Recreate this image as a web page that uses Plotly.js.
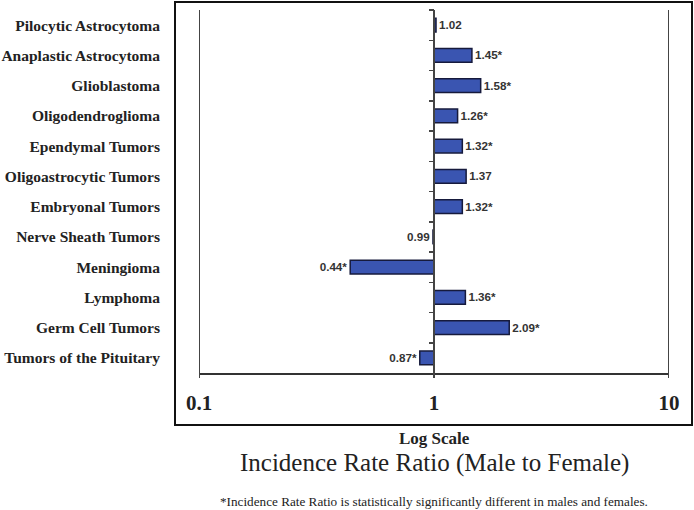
<!DOCTYPE html>
<html>
<head>
<meta charset="utf-8">
<script src="https://cdn.plot.ly/plotly-3.0.1.min.js"></script>
<style>html,body{margin:0;padding:0;background:#fff;}#chart{width:694px;height:510px;}</style>
</head>
<body>
<div id="chart"></div>
<script>
const categories = ["Pilocytic Astrocytoma","Anaplastic Astrocytoma","Glioblastoma","Oligodendroglioma","Ependymal Tumors","Oligoastrocytic Tumors","Embryonal Tumors","Nerve Sheath Tumors","Meningioma","Lymphoma","Germ Cell Tumors","Tumors of the Pituitary"];
const ratios = [1.02, 1.45, 1.58, 1.26, 1.32, 1.37, 1.32, 0.99, 0.44, 1.36, 2.09, 0.87];
const significant = [false, true, true, true, true, false, true, false, true, true, true, true];
const tickValues = [0.1, 1, 10];
const tickLabels = ["0.1", "1", "10"];

const SERIF = "Liberation Serif";
const SANS = "Liberation Sans";

const labels = ratios.map((v, i) => v.toFixed(2) + (significant[i] ? "*" : ""));
const baseline = 1;

const trace = {
  type: "bar",
  orientation: "h",
  y: categories,
  x: ratios.map(v => v - baseline),
  base: ratios.map(() => baseline),
  text: labels,
  textposition: "outside",
  cliponaxis: false,
  textfont: {family: SANS, size: 12, color: "#333", weight: "bold"},
  marker: {color: "#3a55b1", line: {color: "#161a3c", width: 1.5}},
  hoverinfo: "skip"
};

const nCat = categories.length;
const boundaryTicks = [];
for (let i = 0; i <= nCat - 1; i++) boundaryTicks.push(i - 0.5);

const PH = 363; // plot height px
const PW = 470; // plot width px

const verticals = tickValues.map(v => ({
  type: "line", xref: "x", yref: "paper", x0: v, x1: v, y0: -5 / PH, y1: 1,
  line: {color: "#444", width: 2}, layer: "above"
}));

const layout = {
  width: 694, height: 510,
  margin: {l: 199, r: 25, t: 10, b: 137},
  paper_bgcolor: "#fff", plot_bgcolor: "#fff",
  showlegend: false,
  bargap: 0.55,
  font: {family: SERIF, color: "#222"},
  xaxis: {
    type: "log", range: [-1, 1],
    tickvals: tickValues, ticktext: tickLabels,
    tickfont: {family: SERIF, size: 21, weight: "bold", color: "#222"},
    showgrid: false,
    showline: true, linecolor: "#333", linewidth: 2,
    ticks: "", ticklabelstandoff: 10,
    zeroline: false, fixedrange: true
  },
  yaxis: {
    type: "category", autorange: false, range: [nCat - 0.5, -0.5],
    categoryorder: "array", categoryarray: categories,
    tickfont: {family: SERIF, size: 15.5, weight: "bold", color: "#222"},
    showgrid: false, showline: false, ticks: "", ticklabelstandoff: 38,
    zeroline: false, fixedrange: true
  },
  yaxis2: {
    overlaying: "y", anchor: "free", position: 0.5, side: "left",
    autorange: false, range: [nCat - 0.5, -0.5],
    tickvals: boundaryTicks, showticklabels: false,
    ticks: "outside", ticklen: 5, tickwidth: 1.5, tickcolor: "#444",
    showline: false, showgrid: false, zeroline: false, fixedrange: true
  },
  shapes: [
    {type: "rect", xref: "paper", yref: "paper", x0: -24 / PW, x1: 493 / PW, y0: -52 / PH, y1: 1 + 8 / PH,
     line: {color: "#111", width: 2}, fillcolor: "rgba(0,0,0,0)", layer: "below"}
  ].concat(verticals),
  annotations: [
    {xref: "paper", yref: "paper", x: 0.5, y: -65 / PH, yanchor: "middle", showarrow: false,
     text: "<b>Log Scale</b>", font: {family: SERIF, size: 17, color: "#222"}},
    {xref: "paper", yref: "paper", x: 0.5, y: -90 / PH, yanchor: "middle", showarrow: false,
     text: "Incidence Rate Ratio (Male to Female)", font: {family: SERIF, size: 25, color: "#222"}},
    {xref: "paper", yref: "paper", x: 0.5, y: -128 / PH, yanchor: "middle", showarrow: false,
     text: "*Incidence Rate Ratio is statistically significantly different in males and females.", font: {family: SERIF, size: 13.2, color: "#222"}}
  ]
};

const helper = {type: "scatter", x: [1], y: [0], yaxis: "y2", mode: "markers", marker: {opacity: 0}, hoverinfo: "skip", showlegend: false};

Plotly.newPlot("chart", [trace, helper], layout, {displayModeBar: false, staticPlot: true});
</script>
</body>
</html>
